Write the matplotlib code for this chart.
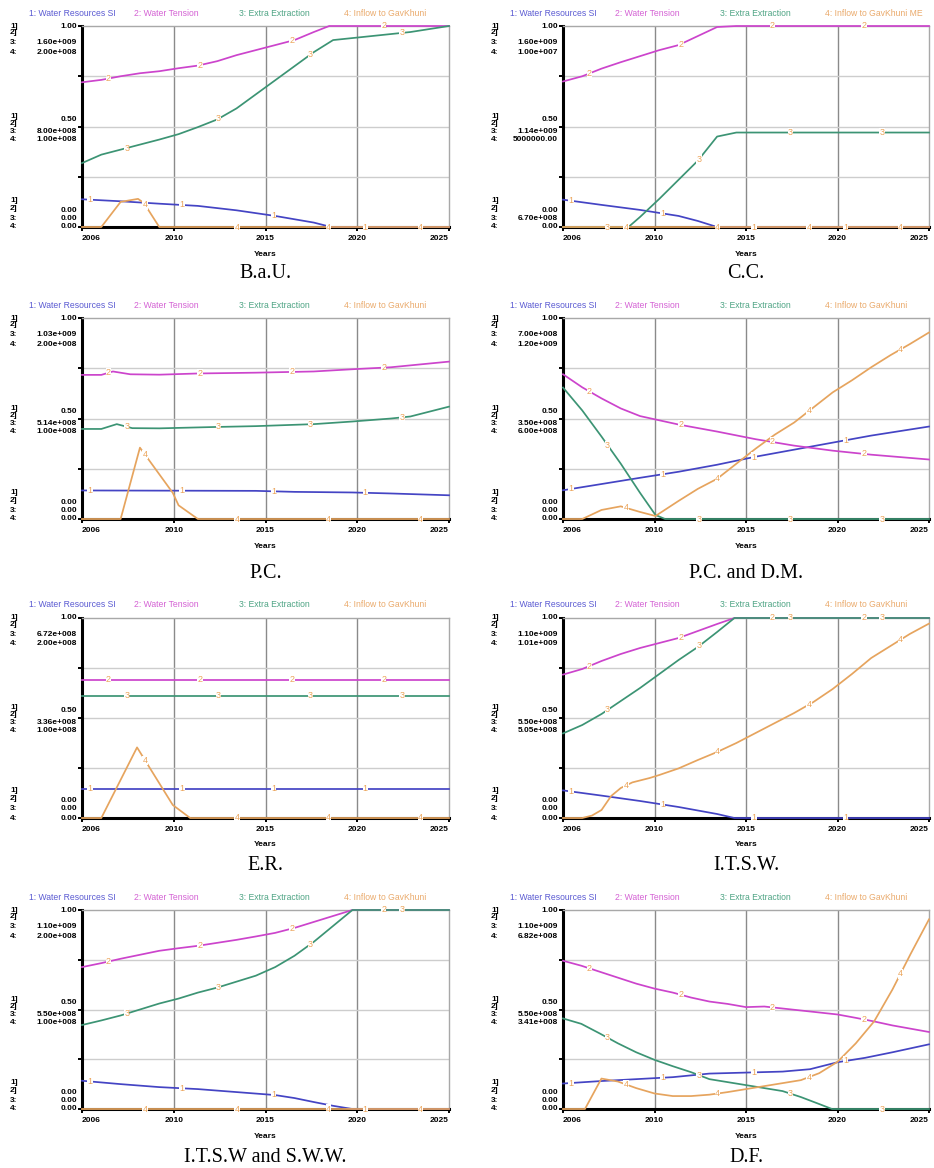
import numpy as np
import matplotlib.pyplot as plt

plt.rcParams['font.family'] = ['Liberation Sans', 'DejaVu Sans']

legend_names = ['1: Water Resources SI', '2: Water Tension', '3: Extra Extraction', '4: Inflow to GavKhuni']
line_colors = ['#4444c4', '#cc44cc', '#3c9474', '#e6a45e']
header_colors = ['#5a5ad2', '#d462d4', '#4ea484', '#eaaa6c']
tick_years = ['2006', '2010', '2015', '2020', '2025']

# ---- B.a.U. (values are fractions of each series' own scale) ----
bau_s1 = [(2006, .138), (2008, .128), (2010, .116), (2012, .105), (2014, .083), (2016, .055), (2018, .022), (2018.9, 0), (2025, 0)]
bau_s2 = [(2006, .72), (2007, .732), (2008, .75), (2009, .765), (2010, .775), (2011, .79), (2012, .803), (2013, .825),
          (2014, .855), (2015, .88), (2016, .905), (2017, .93), (2018, .97), (2018.8, 1), (2025, 1)]
bau_s3 = [(2006, .318), (2007, .36), (2008, .385), (2009, .41), (2010, .435), (2011, .462), (2012, .497), (2013, .535),
          (2014, .59), (2015, .66), (2016, .73), (2017, .8), (2018, .87), (2019, .93), (2020, .94), (2022, .96),
          (2023, .97), (2025, 1)]
bau_s4 = [(2006, 0), (2007, 0), (2008, .125), (2008.9, .14), (2009.2, .12), (2010, 0), (2025, 0)]
bau_scale3 = ['1.60e+009', '8.00e+008', '0.00']
bau_scale4 = ['2.00e+008', '1.00e+008', '0.00']

# ---- C.C. ----
cc_s1 = [(2006, .136), (2008, .11), (2010, .085), (2011, .07), (2012, .055), (2013, .03), (2014, 0), (2025, 0)]
cc_s2 = [(2006, .724), (2007, .75), (2008, .788), (2009, .82), (2010, .85), (2011, .88), (2012, .905), (2013, .95),
         (2014, .995), (2015, 1), (2025, 1)]
cc_s3 = [(2006, 0), (2009.4, 0), (2010, .05), (2011, .14), (2012, .235), (2013, .33), (2014, .45), (2015, .47), (2025, .47)]
cc_s4 = [(2006, 0), (2025, 0)]
cc_scale3 = ['1.60e+009', '1.14e+009', '6.70e+008']
cc_scale4 = ['1.00e+007', '5000000.00', '0.00']

# ---- P.C. ----
pc_s1 = [(2006, .142), (2015, .14), (2017, .135), (2020, .132), (2022, .127), (2025, .118)]
pc_s2 = [(2006, .717), (2007, .717), (2007.6, .734), (2008.5, .72), (2010, .718), (2012, .724), (2015, .728),
         (2018, .734), (2020, .745), (2022, .755), (2025, .783)]
pc_s3 = [(2006, .448), (2007, .448), (2007.8, .472), (2008.6, .452), (2010, .451), (2013, .458), (2015, .462),
         (2018, .472), (2020, .485), (2022, .5), (2023, .51), (2025, .559)]
pc_s4 = [(2006, 0), (2008, 0), (2009, .355), (2010.7, .13), (2011, .068), (2012, 0), (2025, 0)]
pc_scale3 = ['1.03e+009', '5.14e+008', '0.00']
pc_scale4 = ['2.00e+008', '1.00e+008', '0.00']

# ---- P.C. and D.M. ----
pcdm_s1 = [(2006, .143), (2010, .205), (2012, .235), (2014, .27), (2016, .31), (2018, .345), (2020, .38),
           (2022, .415), (2025, .46)]
pcdm_s2 = [(2006, .72), (2007, .655), (2008, .6), (2009, .55), (2010, .512), (2012, .47), (2014, .435), (2016, .397),
           (2018, .365), (2020, .34), (2022, .32), (2025, .296)]
pcdm_s3 = [(2006, .654), (2007, .54), (2008, .41), (2009, .275), (2010, .13), (2010.8, .02), (2011.3, 0), (2025, 0)]
pcdm_s4 = [(2006, 0), (2007, 0), (2008, .045), (2009, .063), (2010, .035), (2010.8, .015), (2012, .09), (2013, .15),
           (2014, .2), (2015, .275), (2016, .35), (2017, .42), (2018, .48), (2019, .555), (2020, .63), (2021, .69),
           (2022, .755), (2023, .815), (2024, .87), (2025, .928)]
pcdm_scale3 = ['7.00e+008', '3.50e+008', '0.00']
pcdm_scale4 = ['1.20e+009', '6.00e+008', '0.00']

# ---- E.R. ----
er_s1 = [(2006, .146), (2025, .146)]
er_s2 = [(2006, .692), (2025, .692)]
er_s3 = [(2006, .612), (2025, .612)]
er_s4 = [(2006, 0), (2007, 0), (2008.85, .353), (2010.7, .065), (2011.6, 0), (2025, 0)]
er_scale3 = ['6.72e+008', '3.36e+008', '0.00']
er_scale4 = ['2.00e+008', '1.00e+008', '0.00']

# ---- I.T.S.W. ----
itsw_s1 = [(2006, .138), (2008, .112), (2010, .085), (2012, .055), (2014, .02), (2014.9, 0), (2025, 0)]
itsw_s2 = [(2006, .717), (2007, .745), (2008, .785), (2009, .82), (2010, .85), (2011, .875), (2012, .9), (2013, .935),
           (2014, .97), (2014.9, 1), (2025, 1)]
itsw_s3 = [(2006, .423), (2007, .465), (2008, .52), (2009, .585), (2010, .65), (2011, .72), (2012, .79), (2013, .855),
           (2014, .93), (2014.9, 1), (2025, 1)]
itsw_s4 = [(2006, 0), (2007, 0), (2007.5, .012), (2008, .04), (2008.5, .11), (2009, .15), (2009.6, .178), (2010.5, .2),
           (2011, .215), (2012, .248), (2013, .29), (2014, .33), (2015, .375), (2016, .425), (2017, .475),
           (2018, .525), (2019, .58), (2020, .645), (2021, .72), (2022, .8), (2023, .86), (2024, .92), (2025, .972)]
itsw_scale3 = ['1.10e+009', '5.50e+008', '0.00']
itsw_scale4 = ['1.01e+009', '5.05e+008', '0.00']

# ---- I.T.S.W and S.W.W. ----
sww_s1 = [(2006, .142), (2008, .125), (2010, .11), (2012, .1), (2014, .085), (2016, .07), (2017, .055), (2018, .035),
          (2019, .016), (2020, 0), (2025, 0)]
sww_s2 = [(2006, .713), (2007, .733), (2008, .755), (2009, .775), (2010, .795), (2011, .808), (2012, .82), (2013, .835),
          (2014, .85), (2015, .867), (2016, .885), (2017, .91), (2018, .94), (2019, .97), (2020, 1), (2025, 1)]
sww_s3 = [(2006, .422), (2007, .445), (2008, .47), (2009, .5), (2010, .53), (2011, .555), (2012, .585), (2013, .61),
          (2014, .64), (2015, .67), (2016, .713), (2017, .77), (2018, .84), (2019, .92), (2020, 1), (2025, 1)]
sww_s4 = [(2006, 0), (2025, 0)]
sww_scale3 = ['1.10e+009', '5.50e+008', '0.00']
sww_scale4 = ['2.00e+008', '1.00e+008', '0.00']

# ---- D.F. (runs to 2026) ----
df_s1 = [(2006, .128), (2008, .14), (2010, .15), (2012, .16), (2014, .178), (2016, .183), (2018, .188), (2019.5, .2),
         (2021, .235), (2022.5, .257), (2024, .285), (2026, .325)]
df_s2 = [(2006, .745), (2007, .72), (2008, .69), (2009, .66), (2010, .63), (2011, .605), (2012, .585), (2013, .56),
         (2014, .54), (2015, .528), (2016, .512), (2017, .515), (2018, .505), (2019, .495), (2020, .485), (2021, .475),
         (2022, .458), (2023, .44), (2024, .42), (2026, .387)]
df_s3 = [(2006, .455), (2007, .428), (2008, .38), (2009, .33), (2010, .285), (2011, .247), (2012, .215), (2013, .185),
         (2014, .15), (2015, .135), (2016, .12), (2017, .105), (2018, .09), (2019, .06), (2020, .025), (2020.7, 0),
         (2026, 0)]
df_s4 = [(2006, 0), (2007.2, 0), (2008.1, .153), (2009, .138), (2010, .105), (2011, .078), (2012, .065), (2013, .065),
         (2014, .072), (2015, .085), (2016, .1), (2017, .115), (2018, .13), (2019, .145), (2020, .18), (2021, .237),
         (2022, .33), (2023, .44), (2024, .6), (2025, .78), (2026, .953)]
df_scale3 = ['1.10e+009', '5.50e+008', '0.00']
df_scale4 = ['6.82e+008', '3.41e+008', '0.00']

panels = [
    ('B.a.U.', [bau_s1, bau_s2, bau_s3, bau_s4], bau_scale3, bau_scale4, 2025, legend_names[3]),
    ('C.C.', [cc_s1, cc_s2, cc_s3, cc_s4], cc_scale3, cc_scale4, 2025, '4: Inflow to GavKhuni ME'),
    ('P.C.', [pc_s1, pc_s2, pc_s3, pc_s4], pc_scale3, pc_scale4, 2025, legend_names[3]),
    ('P.C. and D.M.', [pcdm_s1, pcdm_s2, pcdm_s3, pcdm_s4], pcdm_scale3, pcdm_scale4, 2025, legend_names[3]),
    ('E.R.', [er_s1, er_s2, er_s3, er_s4], er_scale3, er_scale4, 2025, legend_names[3]),
    ('I.T.S.W.', [itsw_s1, itsw_s2, itsw_s3, itsw_s4], itsw_scale3, itsw_scale4, 2025, legend_names[3]),
    ('I.T.S.W and S.W.W.', [sww_s1, sww_s2, sww_s3, sww_s4], sww_scale3, sww_scale4, 2025, legend_names[3]),
    ('D.F.', [df_s1, df_s2, df_s3, df_s4], df_scale3, df_scale4, 2026, legend_names[3]),
]

W, H = 934, 1168
col_x = [(82, 449), (563, 929)]
row_y = [(26, 227), (318, 519), (618, 818), (910, 1109)]
caption_gap = [47, 54, 47, 48]
PT = 0.72  # points per pixel at 100 dpi

fig = plt.figure(figsize=(W / 100, H / 100), dpi=100)
small = dict(fontsize=6, fontweight='bold', color='black')

for i, (caption, series, scale3, scale4, xmax, name4) in enumerate(panels):
    r, c = divmod(i, 2)
    x0, x1 = col_x[c]
    yt, yb = row_y[r]
    ax = fig.add_axes([x0 / W, 1 - yb / H, (x1 - x0) / W, (yb - yt) / H])
    ax.set_xlim(2006, xmax)
    ax.set_ylim(0, 1)

    quarters = np.linspace(2006, xmax, 5)
    for q in quarters[1:4]:
        ax.axvline(q, color='#8a8a8a', lw=1, zorder=1)
    for f in [0.25, 0.5, 0.75]:
        ax.axhline(f, color='#cdcdcd', lw=1, zorder=1)

    for side in ['top', 'right']:
        ax.spines[side].set_color('#a8a8a8')
        ax.spines[side].set_linewidth(1)
    for side in ['left', 'bottom']:
        ax.spines[side].set_color('black')
        ax.spines[side].set_linewidth(2.2)

    ax.set_yticks([0, 0.25, 0.5, 0.75, 1])
    ax.set_yticklabels([])
    ax.set_xticks(quarters)
    labels = ax.set_xticklabels(tick_years, **small)
    labels[0].set_ha('left')
    labels[-1].set_ha('right')
    ax.tick_params(axis='both', length=3, width=1.4, pad=2.5)

    # series lines and their number labels
    for n, pts in enumerate(series):
        xs = [p[0] for p in pts]
        ys = [p[1] for p in pts]
        ax.plot(xs, ys, color=line_colors[n], lw=1.25, zorder=3, clip_on=False)
        for k in range(4):
            lx = 2006 + (0.022 + 0.05 * n + 0.25 * k) * (xmax - 2006)
            ly = np.interp(lx, xs, ys)
            ax.text(lx, ly, str(n + 1), fontsize=6.5, color='#eba45a', ha='center', va='center', zorder=5,
                    bbox=dict(facecolor='white', edgecolor='none', pad=0.15), clip_on=False)

    # header legend
    names = legend_names[:3] + [name4]
    for n, nm in enumerate(names):
        ax.annotate(nm, xy=(0, 1), xycoords='axes fraction', xytext=((-53 + 105 * n) * PT, 13 * PT),
                    textcoords='offset points', fontsize=6.2, color=header_colors[n], ha='left', va='center')

    # stacked scale labels on the left
    ytr = ax.get_yaxis_transform()
    values = [
        (1.0, [('1.00', 0), (scale3[0], -17), (scale4[0], -26)], [('1]', 0), ('2]', -7), ('3:', -17), ('4:', -26)]),
        (0.5, [('0.50', 7), (scale3[1], -5), (scale4[1], -13)], [('1]', 10), ('2]', 3), ('3:', -5), ('4:', -13)]),
        (0.0, [('0.00', 17), (scale3[2], 9), (scale4[2], 0)], [('1]', 27), ('2]', 19), ('3:', 9), ('4:', 0)]),
    ]
    for yv, vals, ids in values:
        for txt, off in vals:
            ax.annotate(txt, xy=(0, yv), xycoords=ytr, xytext=(-5 * PT, off * PT), textcoords='offset points',
                        ha='right', va='center', **small)
        for txt, off in ids:
            ax.annotate(txt, xy=(0, yv), xycoords=ytr, xytext=(-72 * PT, off * PT), textcoords='offset points',
                        ha='left', va='center', **small)

    ax.annotate('Years', xy=(0.5, 0), xycoords='axes fraction', xytext=(0, -27 * PT), textcoords='offset points',
                ha='center', va='center', **small)
    ax.annotate(caption, xy=(0.5, 0), xycoords='axes fraction', xytext=(0, -caption_gap[r] * PT),
                textcoords='offset points', ha='center', va='center', fontsize=14.5,
                family=['Liberation Serif', 'DejaVu Serif'])

fig.savefig('out.png', dpi=100)
